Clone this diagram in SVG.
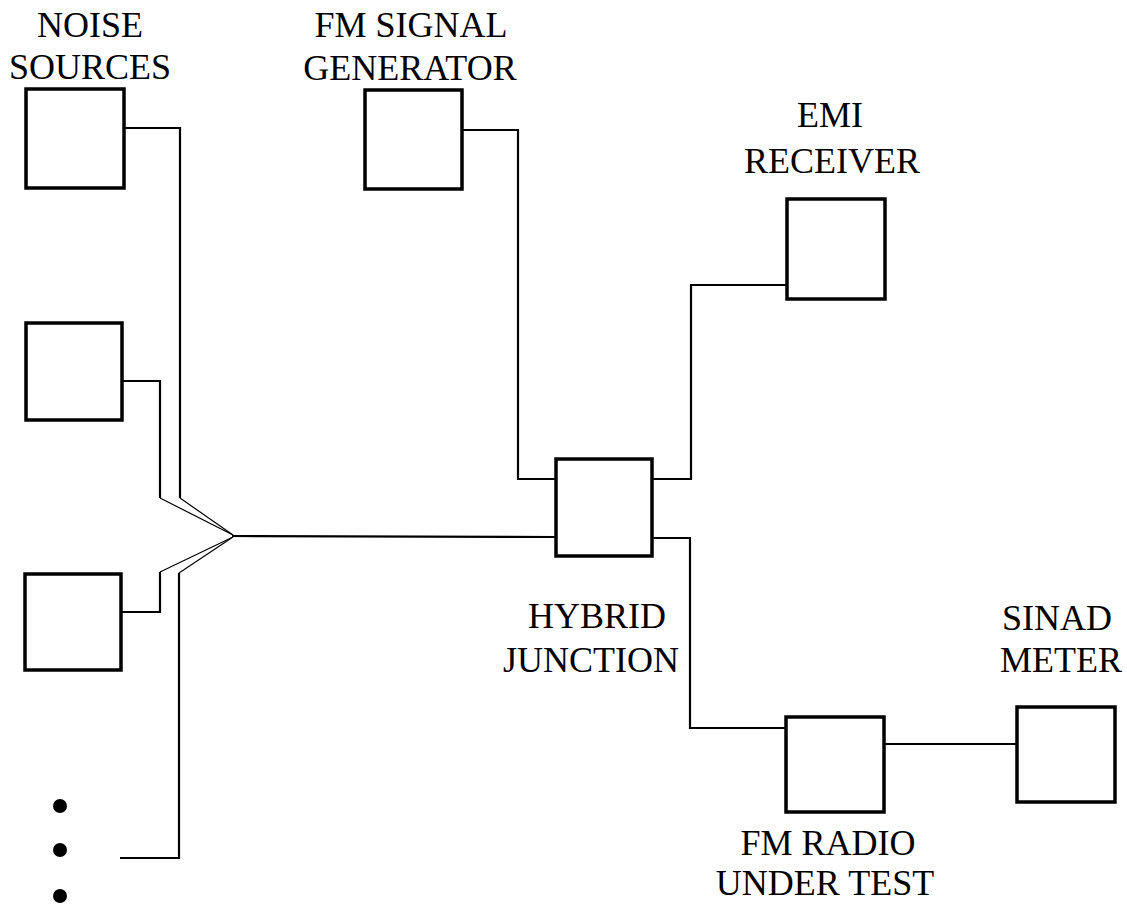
<svg xmlns="http://www.w3.org/2000/svg" width="1127" height="907" viewBox="0 0 1127 907">
<style>
.box{fill:#fff;stroke:#000;stroke-width:3.5}
.wire{fill:none;stroke:#000;stroke-width:2.2}
.thin{fill:none;stroke:#000;stroke-width:1.2}
.lbl{font-family:'Liberation Serif','Times New Roman',Times,serif;font-size:36px;fill:#000;text-anchor:middle}
</style>
<rect width="1127" height="907" fill="#fff"/>
<g id="connectors">
<polyline class="wire" points="124,128 180,128 180,498"/>
<polyline class="wire" points="122,381 160,381 160,498"/>
<polyline class="wire" points="121,612 160,612 160,572"/>
<polyline class="wire" points="120,858 179,858 179,573"/>
<line class="thin" x1="180" y1="498" x2="233" y2="535"/>
<line class="thin" x1="160" y1="498" x2="233" y2="535"/>
<line class="thin" x1="160" y1="572" x2="233" y2="537"/>
<line class="thin" x1="179" y1="573" x2="233" y2="537"/>
<line class="wire" x1="232" y1="536" x2="556" y2="537"/>
<polyline class="wire" points="462,130 518,130 518,479 556,479"/>
<polyline class="wire" points="652,479 691,479 691,285 787,285"/>
<polyline class="wire" points="652,538 690,538 690,728 786,728"/>
<line class="wire" x1="884" y1="744" x2="1017" y2="744"/>
</g>
<g id="noise-source-1"><rect class="box" x="26" y="89" width="98" height="99"/></g>
<g id="noise-source-2"><rect class="box" x="26" y="323" width="96" height="97"/></g>
<g id="noise-source-3"><rect class="box" x="25" y="574" width="96" height="96"/></g>
<g id="noise-sources-label"><text class="lbl" x="90" y="37">NOISE</text><text class="lbl" x="90" y="79">SOURCES</text></g>
<g id="dots"><circle cx="60" cy="806" r="7"/><circle cx="60" cy="850" r="7"/><circle cx="60" cy="896" r="7"/></g>
<g id="fm-signal-generator"><rect class="box" x="365" y="90" width="97" height="99"/><text class="lbl" x="411" y="37">FM SIGNAL</text><text class="lbl" x="410" y="80">GENERATOR</text></g>
<g id="emi-receiver"><rect class="box" x="787" y="199" width="98" height="100"/><text class="lbl" x="830" y="127">EMI</text><text class="lbl" x="832" y="173">RECEIVER</text></g>
<g id="hybrid-junction"><rect class="box" x="556" y="459" width="96" height="97"/><text class="lbl" x="597" y="628">HYBRID</text><text class="lbl" x="591" y="672">JUNCTION</text></g>
<g id="fm-radio"><rect class="box" x="786" y="717" width="98" height="95"/><text class="lbl" x="828" y="855">FM RADIO</text><text class="lbl" x="825" y="895">UNDER TEST</text></g>
<g id="sinad-meter"><rect class="box" x="1017" y="707" width="98" height="95"/><text class="lbl" x="1057" y="630">SINAD</text><text class="lbl" x="1061" y="672">METER</text></g>
</svg>
